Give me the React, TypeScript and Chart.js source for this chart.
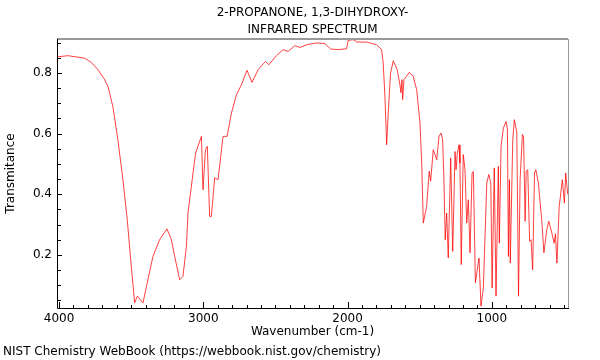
import React, { useEffect, useRef } from "react";
import { Chart, registerables } from "chart.js";

Chart.register(...registerables);

const titleLines = ["2-PROPANONE, 1,3-DIHYDROXY-", "INFRARED SPECTRUM"];
const xAxisTitle = "Wavenumber (cm-1)";
const yAxisTitle = "Transmitance";
const footerText = "NIST Chemistry WebBook (https://webbook.nist.gov/chemistry)";

const xTickLabels = [4000, 3000, 2000, 1000];
const yTickLabels = [0.2, 0.4, 0.6, 0.8];

const wavenumbers = [
  4014, 3939, 3823, 3777, 3731, 3686, 3661, 3627, 3592, 3557, 3527, 3499, 3476, 3457, 3418,
  3384, 3349, 3303, 3252, 3221, 3198, 3164, 3141, 3117, 3106, 3071, 3053, 3013, 3002, 2985,
  2972, 2956, 2944, 2921, 2898, 2863, 2835, 2805, 2770, 2736, 2697, 2662, 2620, 2569, 2546,
  2493, 2447, 2412, 2366, 2331, 2284, 2215, 2157, 2118, 2065, 2007, 1996, 1961, 1937, 1868,
  1799, 1764, 1753, 1741, 1729, 1718, 1702, 1683, 1656, 1637, 1630, 1623, 1618, 1609, 1572,
  1545, 1521, 1498, 1486, 1475, 1452, 1434, 1424, 1406, 1382, 1366, 1352, 1341, 1332, 1323,
  1313, 1302, 1285, 1271, 1255, 1248, 1239, 1227, 1221, 1212, 1198, 1186, 1174, 1163, 1151,
  1137, 1128, 1114, 1101, 1089, 1075, 1059, 1047, 1035, 1021, 1007, 998, 983, 971, 955,
  948, 936, 920, 901, 892, 885, 878, 872, 855, 844, 827, 815, 804, 788, 780,
  769, 762, 751, 738, 728, 717, 704, 695, 677, 665, 654, 639, 619, 605, 584,
  568, 559, 549, 533, 511, 497, 488, 474,
];

const transmittance = [
  0.853, 0.857, 0.849, 0.835, 0.811, 0.78, 0.756, 0.69, 0.58, 0.448, 0.316, 0.162, 0.042, 0.064, 0.042,
  0.118, 0.195, 0.25, 0.286, 0.25, 0.195, 0.118, 0.129, 0.228, 0.338, 0.47, 0.536, 0.591, 0.415, 0.547,
  0.558, 0.327, 0.327, 0.454, 0.448, 0.591, 0.591, 0.668, 0.728, 0.761, 0.809, 0.769, 0.811, 0.838, 0.827,
  0.857, 0.877, 0.871, 0.89, 0.884, 0.893, 0.899, 0.897, 0.879, 0.877, 0.88, 0.907, 0.91, 0.902, 0.902,
  0.893, 0.877, 0.833, 0.723, 0.563, 0.668, 0.8, 0.84, 0.811, 0.761, 0.735, 0.778, 0.712, 0.778, 0.802,
  0.789, 0.745, 0.635, 0.503, 0.305, 0.36, 0.476, 0.443, 0.547, 0.514, 0.591, 0.602, 0.58, 0.448, 0.25,
  0.338, 0.19, 0.52, 0.212, 0.541, 0.481, 0.536, 0.563, 0.503, 0.168, 0.531, 0.481, 0.305, 0.382, 0.207,
  0.47, 0.475, 0.108, 0.15, 0.19, 0.031, 0.091, 0.262, 0.437, 0.465, 0.437, 0.091, 0.487, 0.064, 0.492,
  0.239, 0.558, 0.618, 0.64, 0.615, 0.195, 0.448, 0.173, 0.58, 0.646, 0.605, 0.064, 0.448, 0.597, 0.59,
  0.311, 0.476, 0.481, 0.245, 0.25, 0.151, 0.47, 0.481, 0.437, 0.371, 0.316, 0.207, 0.283, 0.311, 0.272,
  0.239, 0.27, 0.173, 0.36, 0.448, 0.371, 0.47, 0.4,
];

const FONT = "'DejaVu Sans', 'Liberation Sans', sans-serif";

const decorPlugin = {
  id: "decor",
  afterDraw(chart: any) {
    const { ctx, chartArea } = chart;
    const { left, top, right, bottom } = chartArea;
    const xs = chart.scales.x;
    const ys = chart.scales.y;
    ctx.save();
    // ticks (inward)
    ctx.strokeStyle = "#000";
    ctx.lineWidth = 1;
    ctx.beginPath();
    for (let i = 1; i <= 18; i++) {
      const v = i * 0.05;
      const py = Math.round(ys.getPixelForValue(v)) + 0.5;
      if (py < top || py > bottom) continue;
      const len = i % 4 === 0 ? 5 : 4;
      ctx.moveTo(left, py);
      ctx.lineTo(left + len, py);
    }
    for (let w = 500; w <= 4000; w += 100) {
      const px = Math.round(xs.getPixelForValue(w)) + 0.5;
      if (px < left || px > right) continue;
      const len = w % 1000 === 0 ? 6 : 3;
      ctx.moveTo(px, bottom);
      ctx.lineTo(px, bottom - len);
    }
    ctx.stroke();
    // borders
    ctx.strokeStyle = "#999";
    ctx.lineWidth = 2;
    ctx.beginPath();
    ctx.moveTo(left, top);
    ctx.lineTo(right, top);
    ctx.stroke();
    ctx.lineWidth = 1;
    ctx.beginPath();
    ctx.moveTo(right + 0.5, top);
    ctx.lineTo(right + 0.5, bottom);
    ctx.stroke();
    ctx.strokeStyle = "#000";
    ctx.beginPath();
    ctx.moveTo(left + 0.5, top);
    ctx.lineTo(left + 0.5, bottom + 0.5);
    ctx.lineTo(right + 1, bottom + 0.5);
    ctx.stroke();
    // texts
    ctx.fillStyle = "#000";
    ctx.font = `12px ${FONT}`;
    ctx.textAlign = "center";
    ctx.textBaseline = "middle";
    const cx = (left + right) / 2;
    ctx.fillText(titleLines[0], cx, 13);
    ctx.fillText(titleLines[1], cx, 30);
    ctx.fillText(xAxisTitle, cx, 332);
    ctx.textAlign = "left";
    ctx.fillText(footerText, 3, 352);
    ctx.translate(11, (top + bottom) / 2);
    ctx.rotate(-Math.PI / 2);
    ctx.textAlign = "center";
    ctx.fillText(yAxisTitle, 0, 0);
    ctx.restore();
  },
};

export default function App() {
  const ref = useRef<HTMLCanvasElement>(null);
  useEffect(() => {
    if (!ref.current) return;
    Chart.defaults.font.family = FONT;
    const data = wavenumbers.map((w, i) => ({ x: w, y: transmittance[i] }));
    const chart = new Chart(ref.current, {
      type: "line",
      data: {
        datasets: [
          {
            data,
            borderColor: "rgba(255,0,0,0.75)",
            borderWidth: 1,
            pointRadius: 0,
            tension: 0,
            fill: false,
          },
        ],
      },
      options: {
        animation: false,
        responsive: false,
        maintainAspectRatio: false,
        layout: { padding: { top: 39, right: 32, left: 0, bottom: 0 } },
        plugins: { legend: { display: false }, tooltip: { enabled: false }, title: { display: false } },
        scales: {
          x: {
            type: "linear",
            reverse: true,
            min: 472,
            max: 4014,
            grid: { display: false, drawTicks: false },
            border: { display: false },
            ticks: {
              color: "#000",
              font: { size: 12 },
              padding: 4,
              maxRotation: 0,
              includeBounds: false,
              callback: (v: any) => String(Math.round(Number(v))),
            },
            afterBuildTicks: (s: any) => {
              s.ticks = xTickLabels.map((v) => ({ value: v }));
            },
            afterFit: (s: any) => {
              s.height = 52;
            },
          },
          y: {
            type: "linear",
            min: 0.025,
            max: 0.912,
            grid: { display: false, drawTicks: false },
            border: { display: false },
            ticks: {
              color: "#000",
              font: { size: 12 },
              padding: 5,
              includeBounds: false,
              callback: (v: any) => Number(v).toFixed(1),
            },
            afterBuildTicks: (s: any) => {
              s.ticks = yTickLabels.map((v) => ({ value: v }));
            },
            afterFit: (s: any) => {
              s.width = 57;
            },
          },
        },
      },
      plugins: [decorPlugin],
    });
    return () => chart.destroy();
  }, []);
  return (
    <div style={{ position: "fixed", left: 0, top: 0, width: 600, height: 360, background: "#fff" }}>
      <canvas ref={ref} width={600} height={360} style={{ width: 600, height: 360 }} />
    </div>
  );
}
